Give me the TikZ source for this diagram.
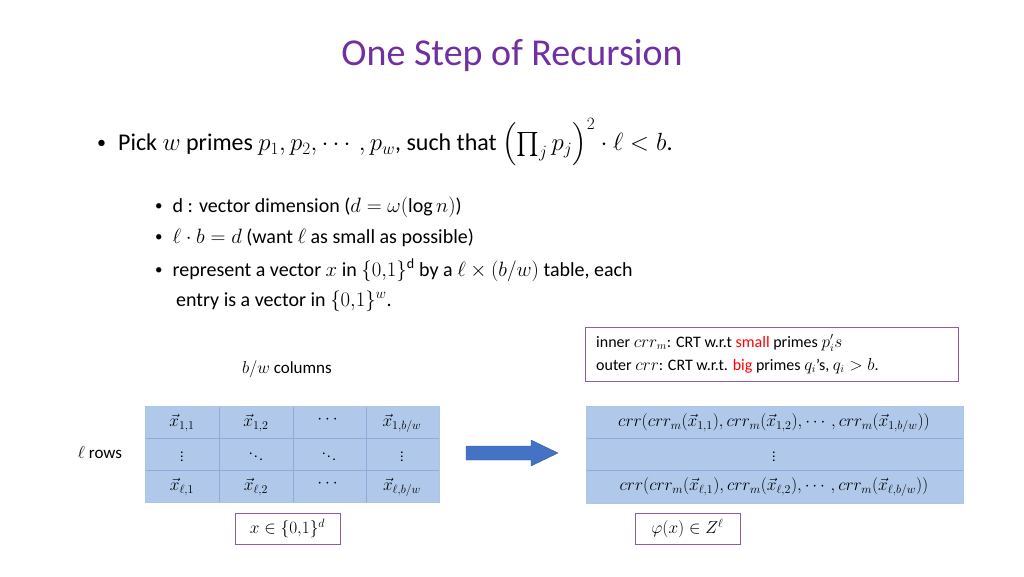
\documentclass[tikz,border=0pt]{standalone}
\usepackage{amsmath,amssymb}
\usepackage{fontspec}
\setmainfont{Carlito}
\definecolor{ttl}{HTML}{7030A0}
\definecolor{cellf}{HTML}{B0C8EA}
\definecolor{celld}{HTML}{8EAADB}
\definecolor{boxd}{HTML}{8E5CAE}
\definecolor{arr}{HTML}{4472C4}
\newcommand{\bul}{\raisebox{0.1em}{\scalebox{0.75}{•}}\hspace{0.5em}}
\begin{document}
\begin{tikzpicture}[x=1pt,y=-1pt,
  txt/.style={inner sep=0pt,anchor=west},
  cell/.style={font=\fontsize{17}{19}\selectfont,inner sep=0pt},
  pbox/.style={draw=boxd,line width=0.8pt}]
\useasboundingbox (0,0) rectangle (1024,576);
\node (title) at (512,55) {\fontsize{38}{44}\selectfont\color{ttl}One Step of Recursion};
\node[txt] (b0) at (97,142) {\fontsize{24}{28}\selectfont \bul Pick $w$ primes $p_1,p_2,\cdots,p_w$, such that $\left(\prod_j p_j\right)^2\cdot \ell<b$.};
\begin{scope}[every node/.style={txt,font=\fontsize{20}{24}\selectfont}]
\node (s1) at (155,207) {\bul d : vector dimension ($d=\omega(\log n)$)};
\node (s2) at (155,238) {\bul $\ell\cdot b=d$ (want $\ell$ as small as possible)};
\node (s3) at (155,270) {\bul represent a vector $x$ in $\{0{,}1\}^{\mathrm{d}}$ by a $\ell\times(b/w)$ table, each};
\node (s4) at (176,301) {entry is a vector in $\{0{,}1\}^{w}$.};
\end{scope}
% info box
\draw[pbox] (585,327) rectangle (958,381);
\node[txt,font=\fontsize{16}{18}\selectfont] (i1) at (596,343) {inner $crr_m$: CRT w.r.t {\color{red}small} primes $p_i's$};
\node[txt,font=\fontsize{16}{18}\selectfont] (i2) at (596,366) {outer $crr$: CRT w.r.t. {\color{red}big} primes $q_i$'s, $q_i>b$.};
\node[font=\fontsize{17}{19}\selectfont] (cols) at (287,369) {$b/w$ columns};
\node[font=\fontsize{17}{19}\selectfont] (rows) at (100,453) {$\ell$ rows};
% left table
\fill[cellf] (145,406) rectangle (439,502);
\foreach \x in {219,293,366} \draw[celld] (\x,406) -- (\x,502);
\foreach \y in {438,470} \draw[celld] (145,\y) -- (439,\y);
\draw[celld!70] (145,406) rectangle (439,502);
\node[cell] (c11) at (182,423) {$\vec x_{1,1}$};
\node[cell] (c12) at (256,423) {$\vec x_{1,2}$};
\node[cell] (c13) at (329,420) {$\cdots$};
\node[cell] (c14) at (402,423) {$\vec x_{1,b/w}$};
\node[cell,font=\fontsize{14}{15}\selectfont] (c21) at (182,454) {$\vdots$};
\node[cell,font=\fontsize{14}{15}\selectfont] (c22) at (256,454) {$\ddots$};
\node[cell,font=\fontsize{14}{15}\selectfont] (c23) at (329,454) {$\ddots$};
\node[cell,font=\fontsize{14}{15}\selectfont] (c24) at (402,454) {$\vdots$};
\node[cell] (c31) at (182,487) {$\vec x_{\ell,1}$};
\node[cell] (c32) at (256,487) {$\vec x_{\ell,2}$};
\node[cell] (c33) at (329,484) {$\cdots$};
\node[cell] (c34) at (402,487) {$\vec x_{\ell,b/w}$};
% arrow
\filldraw[fill=arr,draw=arr!80!black] (466,446) -- (531,446) -- (531,440) -- (558,453) -- (531,466) -- (531,460) -- (466,460) -- cycle;
% right table
\fill[cellf] (586,406) rectangle (963,503);
\foreach \y in {438,470} \draw[celld] (586,\y) -- (963,\y);
\draw[celld!70] (586,406) rectangle (963,503);
\node[cell] (r1) at (774,423) {$crr(crr_m(\vec x_{1,1}),crr_m(\vec x_{1,2}),\cdots,crr_m(\vec x_{1,b/w}))$};
\node[cell,font=\fontsize{14}{15}\selectfont] (r2) at (774,454) {$\vdots$};
\node[cell] (r3) at (774,487) {$crr(crr_m(\vec x_{\ell,1}),crr_m(\vec x_{\ell,2}),\cdots,crr_m(\vec x_{\ell,b/w}))$};
% bottom boxes
\node[pbox,minimum width=105pt,minimum height=31pt,font=\fontsize{17}{19}\selectfont] (bx) at (287.5,528.5) {$x\in\{0{,}1\}^d$};
\node[pbox,minimum width=105pt,minimum height=31pt,font=\fontsize{17}{19}\selectfont] (bp) at (687.5,528.5) {$\varphi(x)\in Z^{\ell}$};
\end{tikzpicture}
\end{document}
